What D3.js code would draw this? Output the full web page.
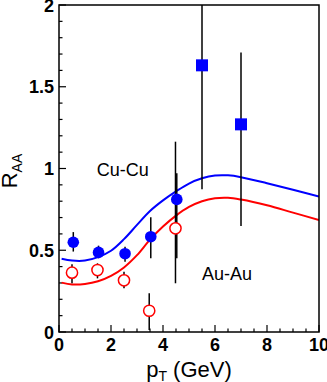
<!DOCTYPE html>
<html>
<head>
<meta charset="utf-8">
<script src="https://cdn.jsdelivr.net/npm/d3@7/dist/d3.min.js"></script>
<style>
  html, body { margin: 0; padding: 0; background: #fff; }
  svg { display: block; font-family: "Liberation Sans", Arial, Helvetica, sans-serif; }
</style>
</head>
<body>
<svg id="chart" width="327" height="382"></svg>
<script>
// Cu-Cu (blue filled circles)
const cuX = [0.55, 1.52, 2.54, 3.53, 4.53];
const cuY = [0.549, 0.487, 0.479, 0.583, 0.811];
const cuLo = [0.492, 0.451, 0.43, 0.451, 0.451];
const cuHi = [0.611, 0.528, 0.522, 0.702, 0.971];

// Au-Au (red open circles)
const auX = [0.5, 1.48, 2.5, 3.47, 4.48];
const auY = [0.363, 0.379, 0.316, 0.13, 0.634];
const auLo = [0.298, 0.328, 0.267, 0.012, 0.298];
const auHi = [0.414, 0.42, 0.369, 0.237, 1.164];

// high pT points (blue squares)
const sqX = [5.5, 7.0];
const sqY = [1.631, 1.27];
const sqLo = [0.873, 0.648];
const sqHi = [2.2, 1.71];

// model curves
const curveX = [0.1, 0.5, 1.0, 1.5, 2.0, 2.5, 3.0, 3.5, 4.0, 4.5, 5.0, 5.5, 6.0, 6.5, 7.0, 8.0, 9.0, 10.0];
const cuCurve = [0.448, 0.437, 0.437, 0.458, 0.497, 0.568, 0.655, 0.74, 0.805, 0.86, 0.908, 0.94, 0.957, 0.958, 0.947, 0.91, 0.87, 0.828];
const auCurve = [0.302, 0.291, 0.294, 0.31, 0.343, 0.395, 0.47, 0.565, 0.645, 0.712, 0.765, 0.8, 0.818, 0.821, 0.81, 0.775, 0.73, 0.685];

const xTicks = [0, 2, 4, 6, 8, 10];
const yTicks = [0, 0.5, 1, 1.5, 2];
const yTickLabels = ['0', '0.5', '1', '1.5', '2'];

const svg = d3.select('#chart');

const padLeft = 59, padRight = 319, padTop = 5, padBottom = 332;

const x = d3.scaleLinear().domain([0, 10]).range([padLeft, padRight]);
const y = d3.scaleLinear().domain([0, 2]).range([padBottom, padTop]);

// minor ticks
const xMinor = d3.range(0, 10.001, 0.5);
const yMinor = d3.range(0, 2.001, 0.1);

svg.append('defs').append('clipPath').attr('id', 'plotclip')
    .append('rect')
    .attr('x', padLeft).attr('y', padTop)
    .attr('width', padRight - padLeft).attr('height', padBottom - padTop);

const axes = svg.append('g').attr('stroke', '#000').attr('stroke-width', 1.2);

axes.selectAll('.xminor').data(xMinor).join('line')
    .attr('x1', (d) => x(d)).attr('x2', (d) => x(d))
    .attr('y1', padBottom)
    .attr('y2', (d) => padBottom - (xTicks.some((t) => Math.abs(t - d) < 1e-6) ? 7 : 3.5));

axes.selectAll('.yminor').data(yMinor).join('line')
    .attr('y1', (d) => y(d)).attr('y2', (d) => y(d))
    .attr('x1', padLeft)
    .attr('x2', (d) => padLeft + (yTicks.some((t) => Math.abs(t - d) < 1e-6) ? 7 : 3.5));

// tick labels
svg.append('g').selectAll('text').data(xTicks).join('text')
    .attr('x', (d) => x(d))
    .attr('y', 351)
    .attr('text-anchor', 'middle')
    .attr('font-size', 18)
    .attr('font-weight', 'bold')
    .text((d) => d);

svg.append('g').selectAll('text').data(yTicks).join('text')
    .attr('x', 54)
    .attr('y', (d) => y(d) + 6.5)
    .attr('text-anchor', 'end')
    .attr('font-size', 18)
    .attr('font-weight', 'bold')
    .text((d, i) => yTickLabels[i]);

// axis titles
const xTitle = svg.append('text')
    .attr('x', x(5))
    .attr('y', 377)
    .attr('text-anchor', 'middle')
    .attr('font-size', 22);
xTitle.append('tspan').text('p');
xTitle.append('tspan').attr('font-size', 14).attr('dy', 4).text('T');
xTitle.append('tspan').attr('dy', -4).text(' (GeV)');

const yTitle = svg.append('text')
    .attr('transform', 'translate(17,171) rotate(-90)')
    .attr('text-anchor', 'middle')
    .attr('font-size', 22);
yTitle.append('tspan').text('R');
yTitle.append('tspan').attr('font-size', 14).attr('dy', 5).text('AA');

const plot = svg.append('g').attr('clip-path', 'url(#plotclip)');

const line = (ys) => d3.line()
    .curve(d3.curveCatmullRom)
    .x((d, i) => x(curveX[i]))
    .y((d) => y(d))(ys);

plot.append('path').attr('d', line(cuCurve))
    .attr('fill', 'none').attr('stroke', '#0000ff').attr('stroke-width', 2);
plot.append('path').attr('d', line(auCurve))
    .attr('fill', 'none').attr('stroke', '#ff0000').attr('stroke-width', 2);

// error bars
const bars = (xs, lo, hi) => {
    plot.append('g').selectAll('line').data(xs).join('line')
        .attr('x1', (d) => x(d)).attr('x2', (d) => x(d))
        .attr('y1', (d, i) => y(lo[i])).attr('y2', (d, i) => y(hi[i]))
        .attr('stroke', '#000').attr('stroke-width', 1.5);
};
bars(auX, auLo, auHi);
bars(cuX, cuLo, cuHi);
bars(sqX, sqLo, sqHi);

plot.append('g').selectAll('circle').data(auX).join('circle')
    .attr('cx', (d) => x(d)).attr('cy', (d, i) => y(auY[i]))
    .attr('r', 5.6)
    .attr('fill', '#fff').attr('stroke', '#ff0000').attr('stroke-width', 1.5);

plot.append('g').selectAll('circle').data(cuX).join('circle')
    .attr('cx', (d) => x(d)).attr('cy', (d, i) => y(cuY[i]))
    .attr('r', 5.8)
    .attr('fill', '#0000ff');

plot.append('g').selectAll('rect').data(sqX).join('rect')
    .attr('x', (d) => x(d) - 6).attr('y', (d, i) => y(sqY[i]) - 6)
    .attr('width', 12).attr('height', 12)
    .attr('fill', '#0000ff');

// labels
svg.append('text').attr('x', x(1.45)).attr('y', 176)
    .attr('font-size', 18).text('Cu-Cu');
svg.append('text').attr('x', x(5.5)).attr('y', 280)
    .attr('font-size', 18).text('Au-Au');

// frame
svg.append('rect')
    .attr('x', padLeft).attr('y', padTop)
    .attr('width', padRight - padLeft).attr('height', padBottom - padTop)
    .attr('fill', 'none').attr('stroke', '#000').attr('stroke-width', 1.5);
</script>
</body>
</html>
